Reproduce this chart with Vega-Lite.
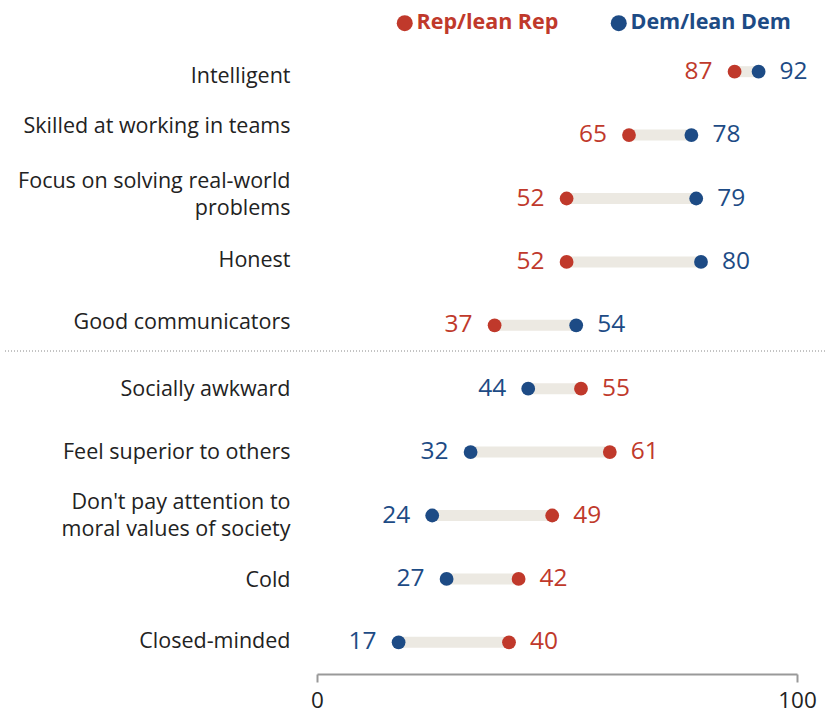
{
  "$schema": "https://vega.github.io/schema/vega-lite/v6.json",
  "width": 480,
  "height": 634,
  "autosize": "none",
  "padding": {"left": 317, "top": 40, "right": 28, "bottom": 39},
  "config": {"view": {"stroke": null}, "font": "Open Sans"},
  "data": {
    "values": [
      {"trait": "Intelligent", "party": "Rep/lean Rep", "value": 87},
      {"trait": "Intelligent", "party": "Dem/lean Dem", "value": 92},
      {"trait": "Skilled at working in teams", "party": "Rep/lean Rep", "value": 65},
      {"trait": "Skilled at working in teams", "party": "Dem/lean Dem", "value": 78},
      {"trait": "Focus on solving real-world problems", "party": "Rep/lean Rep", "value": 52},
      {"trait": "Focus on solving real-world problems", "party": "Dem/lean Dem", "value": 79},
      {"trait": "Honest", "party": "Rep/lean Rep", "value": 52},
      {"trait": "Honest", "party": "Dem/lean Dem", "value": 80},
      {"trait": "Good communicators", "party": "Rep/lean Rep", "value": 37},
      {"trait": "Good communicators", "party": "Dem/lean Dem", "value": 54},
      {"trait": "Socially awkward", "party": "Rep/lean Rep", "value": 55},
      {"trait": "Socially awkward", "party": "Dem/lean Dem", "value": 44},
      {"trait": "Feel superior to others", "party": "Rep/lean Rep", "value": 61},
      {"trait": "Feel superior to others", "party": "Dem/lean Dem", "value": 32},
      {"trait": "Don't pay attention to moral values of society", "party": "Rep/lean Rep", "value": 49},
      {"trait": "Don't pay attention to moral values of society", "party": "Dem/lean Dem", "value": 24},
      {"trait": "Cold", "party": "Rep/lean Rep", "value": 42},
      {"trait": "Cold", "party": "Dem/lean Dem", "value": 27},
      {"trait": "Closed-minded", "party": "Rep/lean Rep", "value": 40},
      {"trait": "Closed-minded", "party": "Dem/lean Dem", "value": 17}
    ]
  },
  "layer": [
    {
      "mark": {"type": "rule", "strokeWidth": 11, "color": "#ece9e2", "strokeCap": "butt"},
      "encoding": {
        "y": {
          "field": "trait", "type": "nominal",
          "sort": ["Intelligent", "Skilled at working in teams", "Focus on solving real-world problems", "Honest", "Good communicators", "Socially awkward", "Feel superior to others", "Don't pay attention to moral values of society", "Cold", "Closed-minded"],
          "scale": {"paddingInner": 0, "paddingOuter": 0},
          "axis": {
            "title": null, "domain": false, "ticks": false, "labelPadding": 27, "labelLimit": 0,
            "labelFontSize": 21.5, "labelColor": "#222222", "labelLineHeight": 27,
            "labelOffset": {
              "condition": [
                {"test": "datum.value == 'Intelligent'", "value": 5},
                {"test": "datum.value == 'Skilled at working in teams'", "value": -8},
                {"test": "datum.value == 'Focus on solving real-world problems'", "value": -17},
                {"test": "datum.value == 'Honest'", "value": -1},
                {"test": "datum.value == 'Good communicators'", "value": -2},
                {"test": "indexof(datum.value, 'moral values') >= 0", "value": -13},
                {"test": "datum.value == 'Cold'", "value": 2},
                {"test": "datum.value == 'Closed-minded'", "value": 0}
              ],
              "value": 1
            },
            "labelExpr": "datum.label == 'Focus on solving real-world problems' ? ['Focus on solving real-world', 'problems'] : datum.label == \"Don't pay attention to moral values of society\" ? [\"Don't pay attention to\", 'moral values of society'] : datum.label"
          }
        },
        "x": {
          "aggregate": "min", "field": "value", "type": "quantitative",
          "scale": {"domain": [0, 100]},
          "axis": {
            "title": null, "values": [0, 100], "grid": false, "domainColor": "#999999", "domainWidth": 2,
            "tickColor": "#999999", "tickWidth": 2, "tickSize": 8, "labelFontSize": 22.5,
            "labelColor": "#222222", "labelPadding": 7, "labelFlush": false
          }
        },
        "x2": {"aggregate": "max", "field": "value"}
      }
    },
    {
      "mark": {"type": "point", "filled": true, "opacity": 1, "size": 190, "shape": "circle"},
      "encoding": {
        "y": {"field": "trait", "type": "nominal", "sort": ["Intelligent", "Skilled at working in teams", "Focus on solving real-world problems", "Honest", "Good communicators", "Socially awkward", "Feel superior to others", "Don't pay attention to moral values of society", "Cold", "Closed-minded"]},
        "x": {"field": "value", "type": "quantitative", "scale": {"domain": [0, 100]}},
        "color": {
          "field": "party", "type": "nominal",
          "scale": {"domain": ["Rep/lean Rep", "Dem/lean Dem"], "range": ["#c0392b", "#1d4b85"]},
          "legend": {
            "title": null, "orient": "none", "direction": "horizontal", "legendX": 77, "legendY": -28,
            "symbolType": "circle", "symbolSize": 256, "symbolStrokeWidth": 0, "labelOffset": 1, "labelLimit": 0,
            "labelFontSize": 21.5, "labelFontWeight": "bold", "labelFont": "Open Sans", "columnPadding": 49, "padding": 0,
            "labelColor": {"expr": "datum.value === 'Rep/lean Rep' ? '#c0392b' : '#1d4b85'"}
          }
        }
      }
    },
    {
      "transform": [
        {"joinaggregate": [{"op": "min", "field": "value", "as": "minv"}], "groupby": ["trait"]},
        {"filter": "datum.value == datum.minv"}
      ],
      "mark": {"type": "text", "align": "right", "baseline": "middle", "dx": -22, "fontSize": 24.5},
      "encoding": {
        "y": {"field": "trait", "type": "nominal", "sort": ["Intelligent", "Skilled at working in teams", "Focus on solving real-world problems", "Honest", "Good communicators", "Socially awkward", "Feel superior to others", "Don't pay attention to moral values of society", "Cold", "Closed-minded"]},
        "x": {"field": "value", "type": "quantitative", "scale": {"domain": [0, 100]}},
        "text": {"field": "value", "type": "quantitative"},
        "color": {"field": "party", "type": "nominal", "legend": null}
      }
    },
    {
      "transform": [
        {"joinaggregate": [{"op": "max", "field": "value", "as": "maxv"}], "groupby": ["trait"]},
        {"filter": "datum.value == datum.maxv"}
      ],
      "mark": {"type": "text", "align": "left", "baseline": "middle", "dx": 21, "fontSize": 24.5},
      "encoding": {
        "y": {"field": "trait", "type": "nominal", "sort": ["Intelligent", "Skilled at working in teams", "Focus on solving real-world problems", "Honest", "Good communicators", "Socially awkward", "Feel superior to others", "Don't pay attention to moral values of society", "Cold", "Closed-minded"]},
        "x": {"field": "value", "type": "quantitative", "scale": {"domain": [0, 100]}},
        "text": {"field": "value", "type": "quantitative"},
        "color": {"field": "party", "type": "nominal", "legend": null}
      }
    },
    {
      "data": {"values": [{}]},
      "mark": {"type": "rule", "strokeDash": [1, 2], "color": "#888888", "strokeWidth": 1, "yOffset": -6},
      "encoding": {
        "y": {"datum": "Socially awkward", "type": "nominal", "bandPosition": 0},
        "x": {"datum": -65, "type": "quantitative", "scale": {"domain": [0, 100]}},
        "x2": {"datum": 106}
      }
    }
  ]
}
